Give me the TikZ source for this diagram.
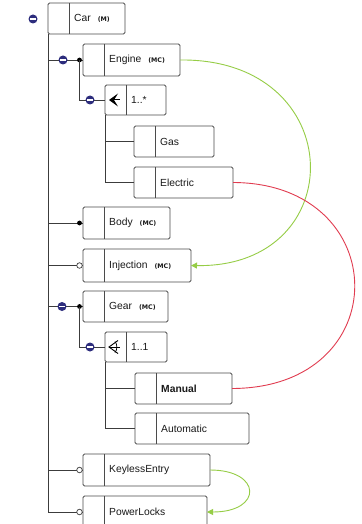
\documentclass[tikz,border=0pt]{standalone}
\usepackage{fontspec}
\setmainfont{Liberation Sans}
\newfontfamily\tagfont{DejaVu Sans}
\usetikzlibrary{arrows.meta}

\definecolor{boxline}{RGB}{75,75,75}
\definecolor{treeline}{RGB}{60,60,60}
\definecolor{navy}{RGB}{45,45,125}
\definecolor{linkgreen}{RGB}{150,205,70}
\definecolor{linkred}{RGB}{225,60,80}

% feature box: name, left x, top y, width, height, text
\newcommand\feature[6]{%
  \node[featbox, minimum width=#4pt, minimum height=#5pt] (#1) at (#2,#3) {};
  \draw[boxline, line width=0.8pt] ([xshift=21.5pt]#1.north west) -- ([xshift=21.5pt]#1.south west);
  \node[ftext] (#1-t) at ([xshift=26pt]#1.west) {#6};
}
\newcommand\mctag[1]{\hspace{7pt}{\tagfont\fontsize{6.3}{7}\selectfont\bfseries #1}}

\begin{document}
\begin{tikzpicture}[x=1pt,y=-1pt,
  featbox/.style={draw=boxline, line width=0.8pt, rounded corners=1.5pt, fill=white,
    anchor=north west, inner sep=0pt, outer sep=0pt},
  ftext/.style={anchor=west, font=\fontsize{10.3}{12}\selectfont, inner sep=0pt, text=black!90},
  tree/.style={line width=0.8pt, draw=treeline},
  minus/.style={circle, fill=navy, minimum size=9pt, inner sep=0pt,
    path picture={\draw[white, line width=1.5pt]
      ([xshift=-2.6pt]path picture bounding box.center) -- ([xshift=2.6pt]path picture bounding box.center);}},
  mand/.style={circle, fill=black, minimum size=4.8pt, inner sep=0pt},
  opt/.style={circle, draw=treeline, fill=white, line width=0.7pt, minimum size=5.5pt, inner sep=0pt},
  link/.style={line width=0.9pt},
  tip/.style={-{Triangle[length=6pt,width=6pt]}},
  ]
\useasboundingbox[fill=white] (0,0) rectangle (361,524);

% feature boxes
\feature{car}{48}{3}{77}{31}{Car\mctag{(M)}}
\feature{engine}{83}{44}{97}{32}{Engine\mctag{(MC)}}
\feature{grpA}{105}{85}{61}{30}{1..*}
\feature{gas}{134}{126}{80}{31}{Gas}
\feature{electric}{134}{167}{99}{31}{Electric}
\feature{body}{83}{207}{87}{32}{Body\mctag{(MC)}}
\feature{injection}{83}{249}{108}{33}{Injection\mctag{(MC)}}
\feature{gear}{83}{291}{85}{31}{Gear\mctag{(MC)}}
\feature{grpB}{105}{332}{62}{30}{1..1}
\feature{manual}{135}{373}{97}{31}{\bfseries Manual}
\feature{automatic}{135}{413}{114}{31}{Automatic}
\feature{keyless}{83}{454}{127}{32}{KeylessEntry}
\feature{powerlocks}{83}{496}{124}{32}{PowerLocks}

% group symbols: or-group (filled) and alternative (with arc)
\begin{scope}[shift={(grpA.west)}]
  \fill[black] (4,0) -- (13,-6.5) -- (9,0) -- (13,6.5) -- cycle;
  \draw[line width=1pt] (8,0) -- (15,0);
\end{scope}
\begin{scope}[shift={(grpB.west)}]
  \draw[line width=0.9pt] (13,-6.5) -- (4,0) -- (13,6.5);
  \draw[line width=0.9pt] (4,0) -- (15,0);
  \draw[line width=0.7pt] (10,-5.5) .. controls (12.5,-2.5) and (12.5,2.5) .. (10,5.5);
\end{scope}

% tree: trunk below the root
\coordinate (trunkend) at (car.south west |- powerlocks.west);
\draw[tree] (car.south west) -- (trunkend);

% branches from the trunk
\draw[tree] (car.south west |- engine.west) -- (engine.west);
\draw[tree] (car.south west |- body.west) -- (body.west);
\draw[tree] (car.south west |- injection.west) -- (injection.west);
\draw[tree] (car.south west |- gear.west) -- (gear.west);
\draw[tree] (car.south west |- keyless.west) -- (keyless.west);
\draw[tree] (trunkend) -- (powerlocks.west);

% engine subtree
\node[mand] (engineDot) at ([xshift=-3.5pt]engine.west) {};
\draw[tree] (engineDot.center) -- (engineDot.center |- grpA.west) -- (grpA.west);
\draw[tree] (grpA.south west) -- (grpA.south west |- electric.west) -- (electric.west);
\draw[tree] (grpA.south west |- gas.west) -- (gas.west);

% gear subtree
\node[mand] (gearDot) at ([xshift=-3.5pt]gear.west) {};
\draw[tree] (gearDot.center) -- (gearDot.center |- grpB.west) -- (grpB.west);
\draw[tree] (grpB.south west) -- (grpB.south west |- automatic.west) -- (automatic.west);
\draw[tree] (grpB.south west |- manual.west) -- (manual.west);

% variability markers
\node[mand] (bodyDot) at ([xshift=-3.5pt]body.west) {};
\node[opt] (injCirc) at ([xshift=-3.5pt]injection.west) {};
\node[opt] (keyCirc) at ([xshift=-3.5pt]keyless.west) {};
\node[opt] (plCirc) at ([xshift=-3.5pt]powerlocks.west) {};

% collapse handles
\node[minus] (carMinus) at (33,19) {};
\node[minus] (engineMinus) at ([xshift=-20pt]engine.west) {};
\node[minus] (gearMinus) at ([xshift=-21pt]gear.west) {};
\node[minus] (grpAMinus) at ([xshift=-15pt]grpA.west) {};
\node[minus] (grpBMinus) at ([xshift=-15pt]grpB.west) {};

% cross-tree constraints
\draw[link, linkgreen, tip] (engine.east) .. controls (350,58) and (352,268) .. (injection.east);
\draw[link, linkred] (electric.east) .. controls (394,183) and (397,388) .. (manual.east);
\draw[link, linkgreen, tip] (keyless.east) .. controls (262,470) and (263,512) .. (powerlocks.east);
\end{tikzpicture}
\end{document}
